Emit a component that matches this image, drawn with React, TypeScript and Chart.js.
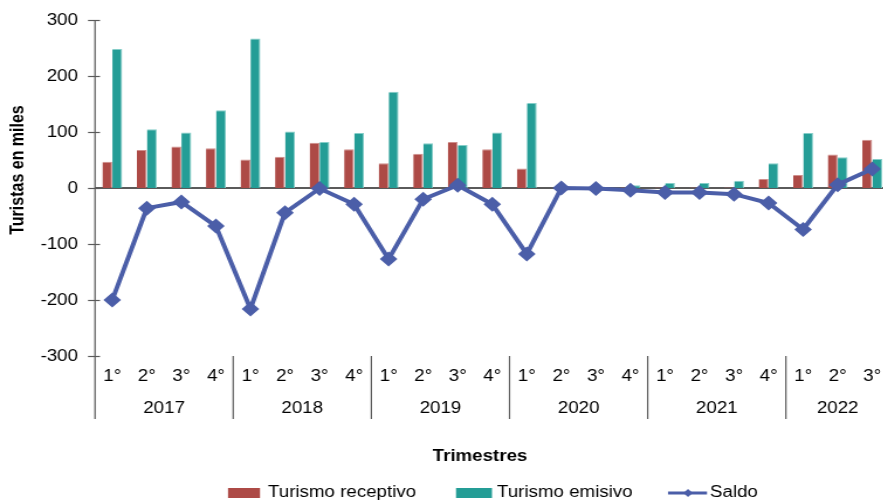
import React, { useEffect, useRef } from "react";
import { Chart, registerables } from "chart.js";

Chart.register(...registerables);

// ---------- data ----------
const years = ["2017", "2018", "2019", "2020", "2021", "2022"];
const quartersPerYear = [4, 4, 4, 4, 4, 3];
const quarterNames = ["1°", "2°", "3°", "4°"];

const receptivo = [47, 68, 74, 71, 51, 56, 81, 69, 44, 61, 82, 69, 35, 0.3, 0.5, 1, 1, 1, 1, 16, 23, 60, 86];
const emisivo = [248, 105, 99, 139, 267, 101, 82, 98, 172, 80, 77, 99, 152, 0.3, 1.5, 5, 9, 9, 13, 44, 98, 55, 52];
const saldo = [-200, -36, -25, -68, -216, -44, -1, -29, -127, -20, 5, -29, -118, 0, -1, -4, -8, -8, -11, -27, -74, 6, 34];

const yTicks = [300, 200, 100, 0, -100, -200, -300];

const seriesNames = ["Turismo receptivo", "Turismo emisivo", "Saldo"];
const axisTitleY = "Turistas en miles";
const axisTitleX = "Trimestres";

// ---------- styling ----------
const RED = "#ad4a46";
const TEAL = "#249d96";
const BLUE = "#4b5ea8";
const AXIS = "#5a5a5a";
const FONT = "'Liberation Sans', Arial, Helvetica, sans-serif";
const S = 1.17; // horizontal stretch of the reference image
const W = 780;
const H = 502;
const X = (v: number) => v / S;

const categories: string[] = [];
years.forEach((yr, gi) => {
  for (let q = 0; q < quartersPerYear[gi]; q++) categories.push(yr + " " + quarterNames[q]);
});

const customPlugin = {
  id: "customAxes",
  beforeDatasetsDraw(chart: any) {
    const { ctx, chartArea, scales } = chart;
    const ys = scales.y;
    const xs = scales.x;
    ctx.save();
    ctx.strokeStyle = AXIS;
    // y axis line
    ctx.lineWidth = 1.2;
    ctx.beginPath();
    ctx.moveTo(chartArea.left, chartArea.top);
    ctx.lineTo(chartArea.left, 419);
    ctx.stroke();
    // tick marks + labels
    ctx.fillStyle = "#000";
    ctx.font = `16px ${FONT}`;
    ctx.textAlign = "right";
    ctx.textBaseline = "middle";
    yTicks.forEach((t) => {
      const py = Math.round(ys.getPixelForValue(t)) + 0.5;
      ctx.beginPath();
      ctx.moveTo(chartArea.left - X(7), py);
      ctx.lineTo(chartArea.left + X(5), py);
      ctx.stroke();
      ctx.fillText(String(t), X(78), py);
    });
    // zero line
    const zy = ys.getPixelForValue(0);
    ctx.lineWidth = 2;
    ctx.beginPath();
    ctx.moveTo(chartArea.left, zy);
    ctx.lineTo(chartArea.right, zy);
    ctx.stroke();
    // group separators
    const catW = xs.getPixelForValue(1) - xs.getPixelForValue(0);
    ctx.lineWidth = 1.2;
    let idx = 0;
    quartersPerYear.forEach((n, gi) => {
      if (gi > 0) {
        const sx = xs.getPixelForValue(idx) - catW / 2;
        ctx.beginPath();
        ctx.moveTo(sx, chartArea.bottom);
        ctx.lineTo(sx, 419);
        ctx.stroke();
      }
      idx += n;
    });
    ctx.restore();
  },
  afterDraw(chart: any) {
    const { ctx, scales } = chart;
    const xs = scales.x;
    ctx.save();
    ctx.fillStyle = "#000";
    ctx.textBaseline = "middle";
    ctx.textAlign = "center";
    // quarter + year labels
    ctx.font = `16px ${FONT}`;
    let idx = 0;
    quartersPerYear.forEach((n, gi) => {
      for (let q = 0; q < n; q++) {
        ctx.fillText(quarterNames[q], xs.getPixelForValue(idx + q), 377);
      }
      const cx = (xs.getPixelForValue(idx) + xs.getPixelForValue(idx + n - 1)) / 2;
      ctx.fillText(years[gi], cx, 409);
      idx += n;
    });
    // x title
    ctx.font = `bold 16px ${FONT}`;
    ctx.fillText(axisTitleX, X(480), 457);
    // y title
    ctx.save();
    ctx.translate(X(18), 170);
    ctx.rotate(-Math.PI / 2);
    ctx.fillText(axisTitleY, 0, 0);
    ctx.restore();
    // legend
    const ly = 493;
    ctx.font = `16px ${FONT}`;
    ctx.textAlign = "left";
    ctx.fillStyle = RED;
    ctx.fillRect(X(228), ly - 5, X(260) - X(228), 10);
    ctx.fillStyle = TEAL;
    ctx.fillRect(X(456), ly - 5, X(492) - X(456), 10);
    ctx.strokeStyle = BLUE;
    ctx.lineWidth = 3;
    ctx.beginPath();
    ctx.moveTo(X(668), ly);
    ctx.lineTo(X(707), ly);
    ctx.stroke();
    ctx.fillStyle = BLUE;
    const mx = X(688);
    const r = 4;
    ctx.beginPath();
    ctx.moveTo(mx, ly - r);
    ctx.lineTo(mx + r, ly);
    ctx.lineTo(mx, ly + r);
    ctx.lineTo(mx - r, ly);
    ctx.closePath();
    ctx.fill();
    ctx.fillStyle = "#000";
    ctx.fillText(seriesNames[0], X(268), ly);
    ctx.fillText(seriesNames[1], X(497), ly);
    ctx.fillText(seriesNames[2], X(710), ly);
    ctx.restore();
  },
};

export default function App() {
  const ref = useRef<HTMLCanvasElement | null>(null);
  useEffect(() => {
    if (!ref.current) return;
    Chart.defaults.font.family = FONT;
    const chart = new Chart(ref.current, {
      type: "bar",
      data: {
        labels: categories,
        datasets: [
          {
            type: "line",
            label: seriesNames[2],
            data: saldo,
            borderColor: BLUE,
            backgroundColor: BLUE,
            borderWidth: 4,
            pointStyle: "rectRot",
            pointRadius: 7.5,
            pointBorderWidth: 0,
            pointBackgroundColor: BLUE,
            tension: 0,
            order: 0,
          } as any,
          {
            type: "bar",
            label: seriesNames[0],
            data: receptivo,
            backgroundColor: RED,
            borderColor: "#cf8f8c",
            borderWidth: { top: 1, right: 1, left: 0, bottom: 0 },
            categoryPercentage: 0.58,
            barPercentage: 0.98,
            order: 1,
          } as any,
          {
            type: "bar",
            label: seriesNames[1],
            data: emisivo,
            backgroundColor: TEAL,
            borderColor: "#84cdc8",
            borderWidth: { top: 1, right: 1, left: 0, bottom: 0 },
            categoryPercentage: 0.58,
            barPercentage: 0.98,
            order: 1,
          } as any,
        ],
      },
      options: {
        animation: false,
        responsive: false,
        maintainAspectRatio: false,
        layout: { padding: { top: 20, left: 0, right: W - 889.5 / S, bottom: 0 } },
        plugins: { legend: { display: false }, tooltip: { enabled: false } },
        scales: {
          x: {
            type: "category",
            offset: true,
            grid: { display: false },
            border: { display: false },
            ticks: { display: false },
            afterFit: (s: any) => {
              s.height = H - 356;
              s.paddingLeft = 0;
              s.paddingRight = 0;
            },
          },
          y: {
            min: -300,
            max: 300,
            grid: { display: false },
            border: { display: false },
            ticks: { display: false, stepSize: 100 },
            afterFit: (s: any) => {
              s.width = 95 / S;
              s.paddingTop = 0;
              s.paddingBottom = 0;
            },
          },
        },
      },
      plugins: [customPlugin],
    });
    return () => chart.destroy();
  }, []);
  return (
    <div
      style={{
        position: "fixed",
        left: 0,
        top: 0,
        width: 883,
        height: 502,
        overflow: "hidden",
        background: "#fff",
      }}
    >
      <div style={{ transform: `scaleX(${S})`, transformOrigin: "0 0", width: W, height: H }}>
        <canvas ref={ref} width={W} height={H} style={{ display: "block" }} />
      </div>
    </div>
  );
}
